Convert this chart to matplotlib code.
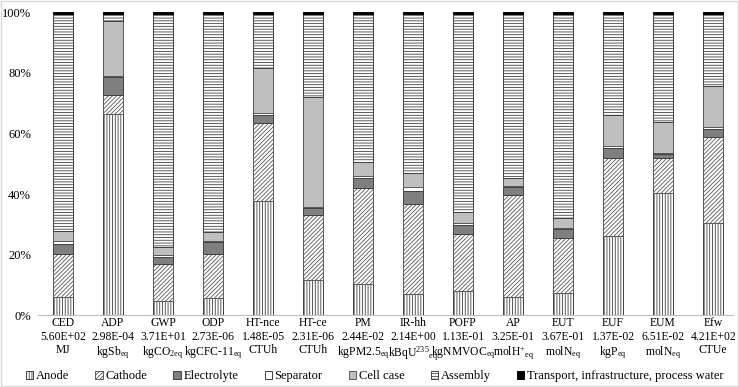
import numpy as np
import matplotlib.pyplot as plt
from matplotlib.patches import Rectangle
from matplotlib.ticker import PercentFormatter

plt.rcParams['font.family'] = ['Liberation Serif', 'DejaVu Serif']
plt.rcParams['mathtext.fontset'] = 'custom'
plt.rcParams['mathtext.rm'] = 'Liberation Serif'
plt.rcParams['mathtext.it'] = 'Liberation Serif:italic'
plt.rcParams['hatch.linewidth'] = 0.6

# impact categories (name, result, unit)
categories = ['CED', 'ADP', 'GWP', 'ODP', 'HT-nce', 'HT-ce', 'PM', 'IR-hh',
              'POFP', 'AP', 'EUT', 'EUF', 'EUM', 'Efw']
totals = ['5.60E+02', '2.98E-04', '3.71E+01', '2.73E-06', '1.48E-05', '2.31E-06',
          '2.44E-02', '2.14E+00', '1.13E-01', '3.25E-01', '3.67E-01', '1.37E-02',
          '6.51E-02', '4.21E+02']
units = ['MJ', r'kgSb$_\mathrm{eq}$', r'kgCO$_\mathrm{2eq}$', r'kgCFC-11$_\mathrm{eq}$',
         'CTUh', 'CTUh', r'kgPM2.5$_\mathrm{eq}$', r'kBqU$^{235}{}_\mathrm{eq}$',
         r'kgNMVOC$_\mathrm{eq}$', r'molH$^{+}{}_\mathrm{eq}$', r'molN$_\mathrm{eq}$',
         r'kgP$_\mathrm{eq}$', r'molN$_\mathrm{eq}$', 'CTUe']

# contributions in %
anode = [6.0, 66.4, 4.6, 5.7, 37.7, 11.6, 10.4, 7.0, 8.1, 6.0, 7.3, 26.2, 40.5, 30.5]
cathode = [14.4, 6.2, 12.3, 14.7, 25.8, 21.4, 31.5, 29.6, 18.7, 33.6, 18.3, 25.9, 11.3, 28.3]
electrolyte = [3.1, 6.0, 2.4, 3.9, 2.8, 2.5, 3.6, 4.5, 2.9, 2.8, 2.9, 3.3, 1.5, 2.6]
separator = [1.0, 0.4, 0.6, 0.4, 0.6, 0.4, 0.5, 1.2, 0.7, 0.3, 0.3, 0.6, 0.3, 0.7]
cell_case = [3.3, 18.0, 2.6, 2.7, 14.7, 36.1, 4.5, 4.6, 3.8, 2.5, 3.3, 10.0, 10.1, 13.5]
assembly = [71.7, 2.5, 77.0, 72.1, 17.9, 27.5, 49.0, 52.6, 65.3, 54.3, 67.4, 33.5, 35.8, 23.9]
transport = [0.5, 0.5, 0.5, 0.5, 0.5, 0.5, 0.5, 0.5, 0.5, 0.5, 0.5, 0.5, 0.5, 0.5]

series = [
    ('Anode', anode, 'white', '#404040', '||||||'),
    ('Cathode', cathode, 'white', '#595959', '////////'),
    ('Electrolyte', electrolyte, '#7f7f7f', '#404040', None),
    ('Separator', separator, 'white', '#404040', None),
    ('Cell case', cell_case, '#bfbfbf', '#595959', None),
    ('Assembly', assembly, 'white', '#404040', '------'),
    ('Transport, infrastructure, process water', transport, 'black', 'black', None),
]

fig = plt.figure(figsize=(7.39, 3.87), dpi=100)
ax = fig.add_axes([0.0514, 0.185, 0.9406, 0.783])

x = np.arange(len(categories))
bottom = np.zeros(len(categories))
for name, vals, fc, ec, h in series:
    ax.bar(x, vals, 0.4, bottom=bottom, color=fc, edgecolor=ec, hatch=h,
           linewidth=0.7, label=name)
    bottom += np.array(vals)

ax.set_xlim(-0.5, 13.4)
ax.set_ylim(0, 100)
ax.set_yticks(np.arange(0, 101, 20))
ax.yaxis.set_major_formatter(PercentFormatter(100, decimals=0))
ax.set_xticks(x)
ax.set_xticklabels([c + '\n' + t + '\n' + u for c, t, u in zip(categories, totals, units)],
                   linespacing=1.2)
ax.tick_params(length=0, labelsize=9)
ax.tick_params(axis='x', labelsize=8.4, pad=1)
ax.tick_params(axis='y', pad=5)
for s in ['top', 'right', 'left']:
    ax.spines[s].set_visible(False)
ax.spines['bottom'].set_color('#bfbfbf')

handles, labels = ax.get_legend_handles_labels()
fig.legend(handles, labels, loc='center', bbox_to_anchor=(0.507, 0.028), ncol=7,
           frameon=False, fontsize=9, handlelength=0.6, handleheight=0.6,
           handletextpad=0.2, columnspacing=2.1)

fig.patches.append(Rectangle((0.001, 0.002), 0.997, 0.996, transform=fig.transFigure,
                             fill=False, edgecolor='#d9d9d9', linewidth=1))

fig.savefig('out.png', dpi=100)
